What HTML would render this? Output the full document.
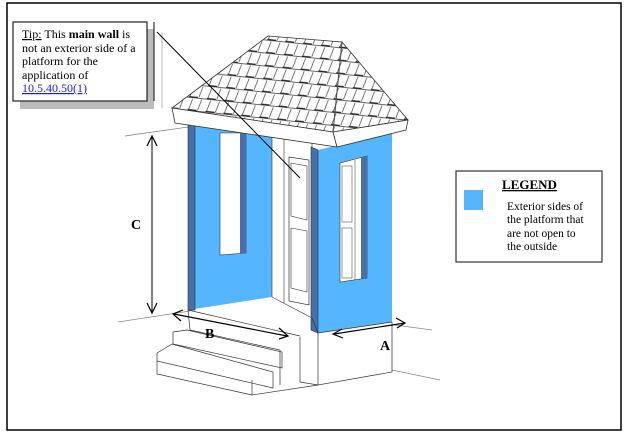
<!DOCTYPE html>
<html><head><meta charset="utf-8"><style>
html,body{margin:0;padding:0;background:#fff;}
svg{display:block;}
text{font-family:"Liberation Serif",serif;}
</style></head><body>
<svg width="628" height="438" viewBox="0 0 628 438" xmlns="http://www.w3.org/2000/svg">
<defs>
<pattern id="sh" width="18" height="13" patternUnits="userSpaceOnUse" patternTransform="rotate(6)">
<rect width="18" height="13" fill="#fff"/>
<line x1="0" y1="11.5" x2="9" y2="11.5" stroke="#222" stroke-width="1.6"/>
<line x1="9" y1="12" x2="18" y2="12" stroke="#666" stroke-width="1"/>
<line x1="4" y1="0" x2="1" y2="11" stroke="#444" stroke-width="0.7"/>
<line x1="13" y1="0" x2="10" y2="11" stroke="#444" stroke-width="0.7"/>
</pattern>
</defs>
<rect x="7" y="3" width="614" height="427" fill="none" stroke="#000" stroke-width="1.5"/>

<rect x="20" y="29" width="134" height="80" fill="#bbb"/>
<rect x="13" y="22" width="134" height="79" fill="#fff" stroke="#222" stroke-width="1.2"/>
<line x1="154" y1="22" x2="154" y2="101" stroke="#333" stroke-width="1.2"/>
<line x1="162" y1="32" x2="162" y2="108" stroke="#bbb" stroke-width="1"/>
<text x="22" y="38" font-size="12"><tspan text-decoration="underline">Tip:</tspan> This <tspan font-weight="bold">main wall</tspan> is</text>
<text x="22" y="52" font-size="12">not an exterior side of a</text>
<text x="22" y="65" font-size="12">platform for the</text>
<text x="22" y="79" font-size="12">application of</text>
<text x="22" y="92" font-size="12" fill="#1a1aff" text-decoration="underline">10.5.40.50(1)</text>

<line x1="125" y1="136" x2="188" y2="127" stroke="#888" stroke-width="0.8"/>
<line x1="118" y1="322" x2="190" y2="311" stroke="#888" stroke-width="0.8"/>
<line x1="395" y1="325" x2="432" y2="330" stroke="#888" stroke-width="0.8"/>
<line x1="392" y1="370" x2="440" y2="380" stroke="#888" stroke-width="0.8"/>

<polygon points="188,125 272,132 272,297 188,310" fill="#55b5fd"/>
<rect x="188" y="125" width="7" height="185" fill="#4a6ea8" stroke="#234" stroke-width="0.6"/>
<polygon points="220,133 246,133 246,253 220,255" fill="#fff" stroke="#333" stroke-width="0.6"/>
<polygon points="240,133 246,133 246,253 240,254" fill="#4a6ea8"/>
<polygon points="272,132 312,140 312,318 272,297" fill="#fff" stroke="#333" stroke-width="0.6"/>
<line x1="284" y1="138" x2="284" y2="303" stroke="#333" stroke-width="0.6"/>
<polygon points="289,157 309,160 309,305 289,301" fill="#fff" stroke="#333" stroke-width="0.7"/>
<polygon points="291,163 307,166 307,220 291,216" fill="none" stroke="#333" stroke-width="0.6"/>
<polygon points="291,228 307,231 307,292 291,288" fill="none" stroke="#333" stroke-width="0.6"/>
<polygon points="318,150 392,132 392,322 318,333" fill="#55b5fd"/>
<polygon points="311,147 318,150 318,333 311,330" fill="#4a6ea8" stroke="#234" stroke-width="0.6"/>
<polygon points="340,163 367,156 367,278 340,282" fill="#fff" stroke="#333" stroke-width="0.6"/>
<polygon points="361,158 367,156 367,278 361,279" fill="#4a6ea8"/>
<line x1="355" y1="160" x2="355" y2="280" stroke="#333" stroke-width="0.5"/>
<rect x="342" y="166" width="10" height="56" fill="none" stroke="#333" stroke-width="0.5"/>
<rect x="342" y="228" width="10" height="50" fill="none" stroke="#333" stroke-width="0.5"/>

<polygon points="172,108 268,36 342,42 333,132" fill="url(#sh)" stroke="#333" stroke-width="0.8"/>
<polygon points="342,42 408,120 333,132" fill="url(#sh)" stroke="#333" stroke-width="0.8"/>
<line x1="342" y1="42" x2="333" y2="132" stroke="#555" stroke-width="1"/>
<polygon points="172,108 333,132 337,147 175,123" fill="#fff" stroke="#333" stroke-width="0.8"/>
<polygon points="333,132 408,120 406,130 337,147" fill="#fff" stroke="#333" stroke-width="0.8"/>

<line x1="157" y1="32" x2="300" y2="178" stroke="#000" stroke-width="1"/>

<g fill="none" stroke="#333" stroke-width="0.7">
<polyline points="188,310 190,330 280,350 280,385"/>
<polyline points="312,318 318,333 392,322 392,372 318,385 318,333"/>
<line x1="300" y1="337" x2="300" y2="382"/>
<line x1="188" y1="310" x2="300" y2="336"/>
<polyline points="173,332 187,330 282,352 282,368 173,344 173,332"/>
<polyline points="157,353 172,344 273,372 273,388 157,361 157,353"/>
<polyline points="157,361 157,374 252,395 318,385"/>
<line x1="252" y1="395" x2="252" y2="380"/>
<line x1="300" y1="382" x2="318" y2="385"/>
</g>

<line x1="152" y1="136" x2="152" y2="313" stroke="#000" stroke-width="1"/>
<polyline points="147,146 152,136 157,146" fill="none" stroke="#000" stroke-width="1.2"/>
<polyline points="147,303 152,313 157,303" fill="none" stroke="#000" stroke-width="1.2"/>
<text x="131" y="229" font-size="14" font-weight="bold">C</text>
<line x1="174" y1="314" x2="287" y2="336" stroke="#000" stroke-width="1.2"/>
<polyline points="183,310 173,314 181,321" fill="none" stroke="#000" stroke-width="1.2"/>
<polyline points="279,328 288,336 279,339" fill="none" stroke="#000" stroke-width="1.2"/>
<text x="205" y="338" font-size="14" font-weight="bold">B</text>
<line x1="334" y1="334" x2="405" y2="323" stroke="#000" stroke-width="1.2"/>
<polyline points="342,329 333,334 343,338" fill="none" stroke="#000" stroke-width="1.2"/>
<polyline points="396,318 405,323 397,328" fill="none" stroke="#000" stroke-width="1.2"/>
<text x="380" y="350" font-size="14" font-weight="bold">A</text>

<rect x="456" y="171" width="146" height="91" fill="#fff" stroke="#333" stroke-width="1.2"/>
<rect x="464" y="190" width="19" height="20" fill="#55b5fd"/>
<text x="502" y="189" font-size="13" font-weight="bold" text-decoration="underline">LEGEND</text>
<text x="507" y="210" font-size="11.5">Exterior sides of</text>
<text x="507" y="223" font-size="11.5">the platform that</text>
<text x="507" y="237" font-size="11.5">are not open to</text>
<text x="507" y="250" font-size="11.5">the outside</text>
</svg>
</body></html>
